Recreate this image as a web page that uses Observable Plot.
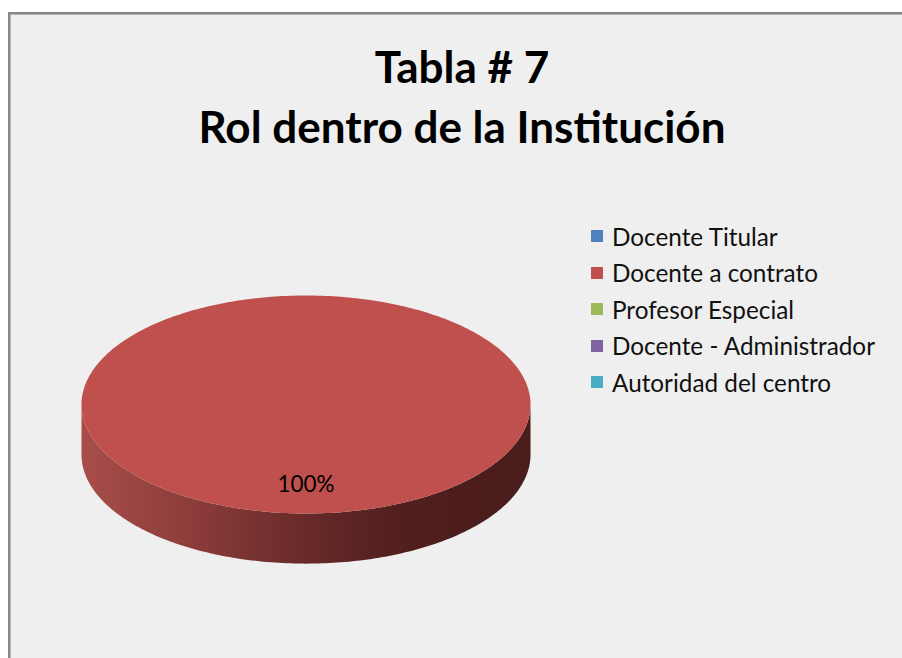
<!DOCTYPE html>
<html>
<head>
<meta charset="utf-8">
<script src="https://cdn.jsdelivr.net/npm/d3@7"></script>
<script src="https://cdn.jsdelivr.net/npm/@observablehq/plot@0.6"></script>
<style>
html, body { margin: 0; padding: 0; background: #ffffff; width: 902px; height: 658px; overflow: hidden; position: relative; }
#frame { position: absolute; left: 8px; top: 12px; width: 892px; height: 644px; background: #efefef;
  border: none; border-top: 2px solid #878787; border-left: 2px solid #878787; box-shadow: inset 1px 1px 0 #b4b4b4; }
.title { position: absolute; left: 22px; width: 880px; text-align: center; font-family: Lato, "Open Sans", sans-serif;
  font-weight: 700; color: #000; line-height: 1; white-space: nowrap; }
#chart { position: absolute; left: 0; top: 0; width: 902px; height: 658px; overflow: hidden; }
#legend { position: absolute; left: 591px; top: 218px; }
#legend .lg-swatch { height: 36.5px; padding: 0 !important; margin: 0 !important; display: flex; align-items: center; }
#legend .lg-swatch svg { margin-right: 9px !important; }
#legend .lg-swatch-label { overflow: visible !important; }
</style>
</head>
<body>
<div id="frame"></div>
<div id="t1" class="title">Tabla # 7</div>
<div id="t2" class="title">Rol dentro de la Institución</div>
<div id="chart"></div>
<div id="legend"></div>
<script>
// ---- data ----
const categories = ["Docente Titular", "Docente a contrato", "Profesor Especial", "Docente - Administrador", "Autoridad del centro"];
const values = [0, 100, 0, 0, 0];
const colors = ["#4f81bd", "#c0504d", "#9bbb59", "#8064a2", "#4bacc6"];
const titleLines = ["Tabla # 7", "Rol dentro de la Institución"];

// ---- font fitting ----
const FONT = "Lato";
const ctx = document.createElement("canvas").getContext("2d");
function fit(text, weight, target) {
  ctx.font = `${weight} 100px ${FONT}`;
  return 100 * target / ctx.measureText(text).width;
}
const titleSize = (fit(titleLines[0], 700, 170) + 2 * fit(titleLines[1], 700, 534)) / 3;
const t1 = document.getElementById("t1"), t2 = document.getElementById("t2");
[t1, t2].forEach((el, i) => {
  el.textContent = titleLines[i];
  el.style.fontSize = titleSize + "px";
  const baseline = i === 0 ? 83 : 143.5;
  el.style.top = (baseline - 0.887 * titleSize) + "px";
});
const legendSize = fit("Docente - Administrador", 400, 264);
const labelSize = fit("100%", 400, 57);

// ---- pie geometry (unit ellipse; scales place it) ----
const total = d3.sum(values);
const depth = 0.46;
let acc = 0;
const slices = categories.map((c, i) => {
  const a0 = acc / total * 2 * Math.PI;
  acc += values[i];
  const a1 = acc / total * 2 * Math.PI;
  return {cat: c, value: values[i], a0, a1};
}).filter(s => s.value > 0);

const topPts = [], sidePts = [], labels = [];
const N = 360;
for (const s of slices) {
  const span = s.a1 - s.a0;
  const n = Math.max(2, Math.ceil(span / (2 * Math.PI) * N));
  if (span < 2 * Math.PI - 1e-9) topPts.push({cat: s.cat, x: 0, y: 0});
  for (let k = 0; k <= n; k++) {
    const t = s.a0 + span * k / n;
    topPts.push({cat: s.cat, x: Math.sin(t), y: -Math.cos(t)});
  }
  const b0 = Math.max(s.a0, Math.PI / 2), b1 = Math.min(s.a1, 3 * Math.PI / 2);
  if (b1 > b0) {
    const m = Math.max(2, Math.ceil((b1 - b0) / (2 * Math.PI) * N));
    const arc = d3.range(m + 1).map(k => b0 + (b1 - b0) * k / m);
    for (const t of arc) sidePts.push({cat: s.cat, x: Math.sin(t), y: -Math.cos(t)});
    for (const t of arc.slice().reverse()) sidePts.push({cat: s.cat, x: Math.sin(t), y: -Math.cos(t) + depth});
  }
  const mid = (s.a0 + s.a1) / 2;
  labels.push({x: 0.74 * Math.sin(mid), y: -0.74 * Math.cos(mid), text: Math.round(s.value / total * 100) + "%"});
}

const svg = Plot.plot({
  width: 902,
  height: 658,
  margin: 0,
  style: {background: "transparent"},
  x: {domain: [-1, 1], range: [81, 530], axis: null},
  y: {domain: [-1, 1], range: [295, 513], axis: null},
  color: {type: "ordinal", domain: categories, range: colors},
  marks: [
    Plot.line(sidePts, {x: "x", y: "y", z: "cat", fill: "url(#sideGrad)", stroke: "none"}),
    Plot.line(topPts, {x: "x", y: "y", z: "cat", fill: "cat", stroke: "none"}),
    Plot.text(labels, {x: "x", y: "y", text: "text", fill: "#000", fontSize: labelSize, fontFamily: FONT})
  ]
});
d3.select(svg).insert("defs", ":first-child").html(`
  <linearGradient id="sideGrad" x1="0" x2="1" y1="0" y2="0">
    <stop offset="0" stop-color="#a84d4a"/>
    <stop offset="0.05" stop-color="#a24a47"/>
    <stop offset="0.265" stop-color="#8a3b39"/>
    <stop offset="0.42" stop-color="#72302e"/>
    <stop offset="0.57" stop-color="#5f2625"/>
    <stop offset="0.72" stop-color="#511f1e"/>
    <stop offset="0.87" stop-color="#4c1d1c"/>
    <stop offset="1" stop-color="#4a1c1c"/>
  </linearGradient>`);
document.getElementById("chart").appendChild(svg);

const legend = Plot.legend({
  color: {type: "ordinal", domain: categories, range: colors},
  columns: 1,
  swatchSize: 12,
  className: "lg",
  style: {fontFamily: FONT, fontSize: legendSize + "px", color: "#111", background: "transparent", margin: "0"}
});
document.getElementById("legend").appendChild(legend);
</script>
</body>
</html>
